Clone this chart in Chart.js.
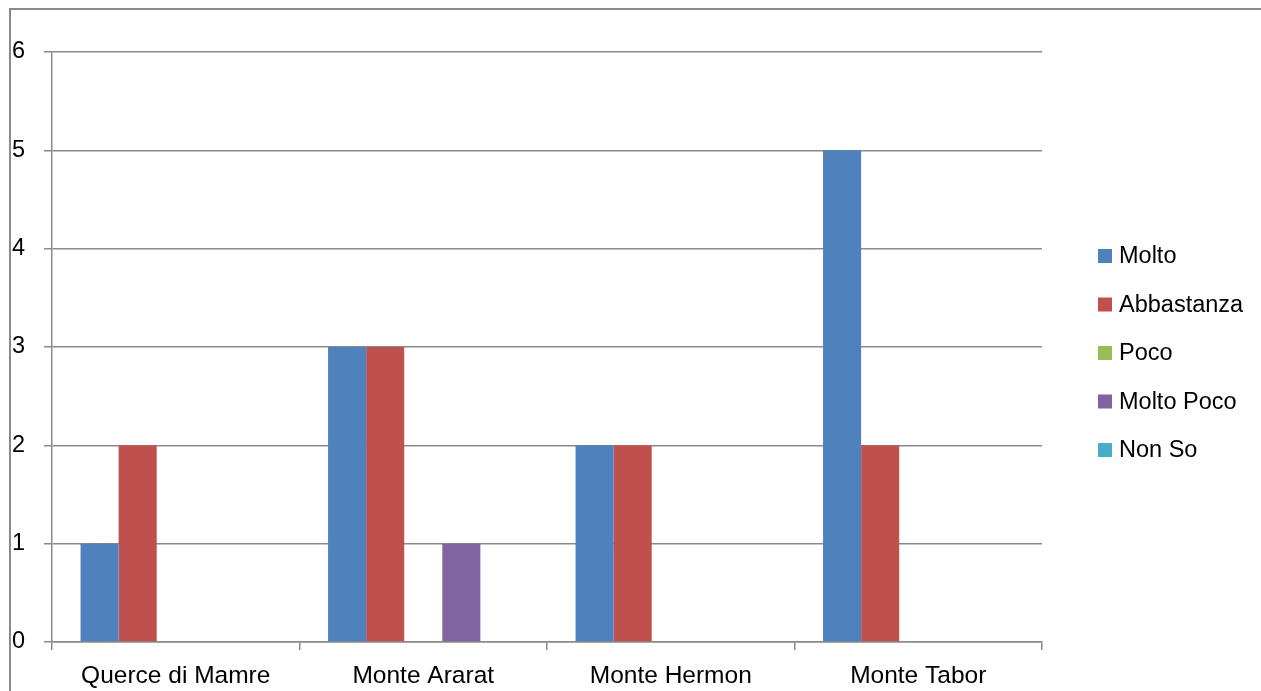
<!DOCTYPE html>
<html>
<head>
<meta charset="utf-8">
<script src="https://cdn.jsdelivr.net/npm/chart.js@4/dist/chart.umd.min.js"></script>
<style>
html,body{margin:0;padding:0;background:#fff;}
#wrap{position:relative;width:1261px;height:691px;}
</style>
</head>
<body>
<div id="wrap"><canvas id="c" width="1261" height="691"></canvas></div>
<script>
const categories = ["Querce di Mamre", "Monte Ararat", "Monte Hermon", "Monte Tabor"];
const seriesNames = ["Molto", "Abbastanza", "Poco", "Molto Poco", "Non So"];
const molto = [1, 3, 2, 5];
const abbastanza = [2, 3, 2, 2];
const poco = [0, 0, 0, 0];
const moltoPoco = [0, 1, 0, 0];
const nonSo = [0, 0, 0, 0];
const yTicks = [0, 1, 2, 3, 4, 5, 6];
const colors = ["#4F81BD", "#C0504D", "#9BBB59", "#8064A2", "#4BACC6"];

const FONT = "'Liberation Sans', Arial, sans-serif";
const GRID = "#8a8a8a";

const seriesValues = [molto, abbastanza, poco, moltoPoco, nonSo];

const legendAndBorder = {
  id: 'legendAndBorder',
  afterDraw(chart) {
    const ctx = chart.ctx;
    ctx.save();
    // outer border
    ctx.strokeStyle = GRID;
    ctx.lineWidth = 2;
    ctx.beginPath();
    ctx.moveTo(10, 700);
    ctx.lineTo(10, 9);
    ctx.lineTo(1270, 9);
    ctx.stroke();
    // legend
    const x0 = 1098, y0 = 256, step = 48.5;
    ctx.font = "23.5px " + FONT;
    ctx.textBaseline = 'middle';
    ctx.textAlign = 'left';
    chart.data.datasets.forEach((ds, i) => {
      const cy = y0 + i * step;
      ctx.fillStyle = ds.backgroundColor;
      ctx.fillRect(x0, cy - 7, 14, 14);
      ctx.fillStyle = '#000';
      ctx.fillText(ds.label, 1119, cy + 1);
    });
    ctx.restore();
  }
};

new Chart(document.getElementById('c'), {
  type: 'bar',
  data: {
    labels: categories,
    datasets: seriesNames.map((n, i) => ({
      label: n,
      data: seriesValues[i],
      backgroundColor: colors[i],
      borderWidth: 0,
      categoryPercentage: 5 / 6.5,
      barPercentage: 1.0
    }))
  },
  options: {
    responsive: false,
    animation: false,
    devicePixelRatio: 1,
    layout: { padding: { left: 12, top: 52, right: 219, bottom: 0 } },
    plugins: { legend: { display: false }, tooltip: { enabled: false } },
    scales: {
      x: {
        offset: true,
        grid: {
          offset: true,
          drawOnChartArea: false,
          drawTicks: true,
          tickLength: 8,
          color: GRID,
          lineWidth: 1.5
        },
        border: { display: true, color: GRID, width: 1.5 },
        ticks: {
          color: '#000',
          font: { family: FONT, size: 24.5 },
          padding: 12,
          maxRotation: 0
        },
        afterFit(scale) { scale.height = 691 - 642; }
      },
      y: {
        min: 0,
        max: 6,
        afterBuildTicks(scale) { scale.ticks = yTicks.map(v => ({ value: v })); },
        grid: {
          drawOnChartArea: true,
          drawTicks: true,
          tickLength: 8,
          color: GRID,
          lineWidth: 1.5
        },
        border: { display: true, color: GRID, width: 1.5 },
        ticks: {
          color: '#000',
          font: { family: FONT, size: 23.5 },
          crossAlign: 'far',
          padding: 4
        },
        afterFit(scale) { scale.width = 52 - 12; }
      }
    }
  },
  plugins: [legendAndBorder]
});
</script>
</body>
</html>
